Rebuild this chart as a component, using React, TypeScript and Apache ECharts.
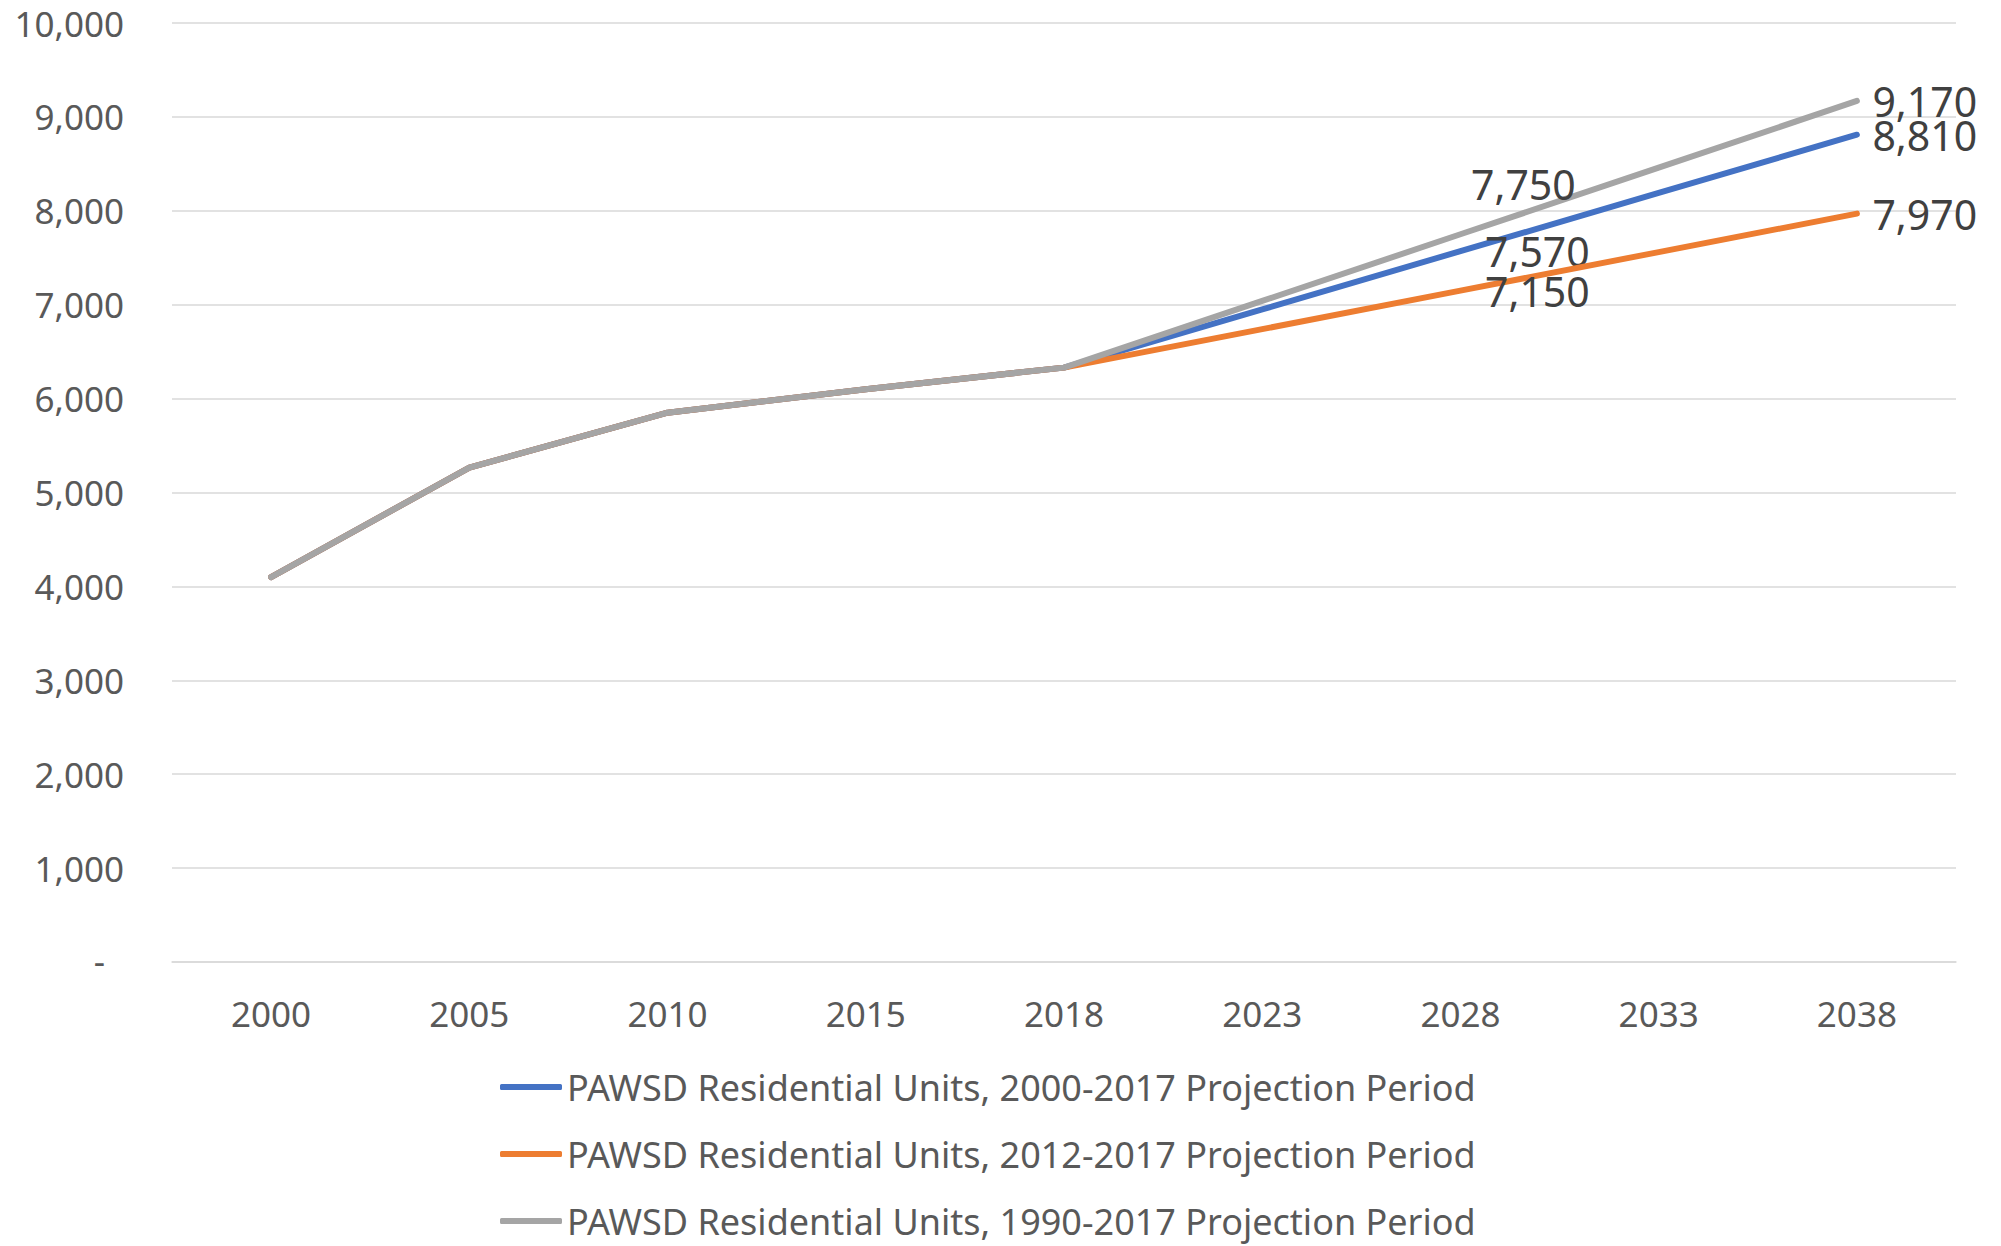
import React, { useEffect, useRef } from "react";
import * as echarts from "echarts";

const categories = ["2000", "2005", "2010", "2015", "2018", "2023", "2028", "2033", "2038"];
const series2000_2017 = [4100, 5265, 5850, 6100, 6330, 6950, 7570, 8190, 8810];
const series2012_2017 = [4100, 5265, 5850, 6100, 6330, 6740, 7150, 7560, 7970];
const series1990_2017 = [4100, 5265, 5850, 6100, 6330, 7040, 7750, 8460, 9170];
const seriesNames = [
  "PAWSD Residential Units, 2000-2017 Projection Period",
  "PAWSD Residential Units, 2012-2017 Projection Period",
  "PAWSD Residential Units, 1990-2017 Projection Period",
];
const colors = ["#4472C4", "#ED7D31", "#A5A5A5"];
const labelledIdx = [6, 8];

const FONT = "Noto Sans";

const fmt = (v: number) => v.toLocaleString("en-US");

function buildData(values: number[], midOffset: number[]) {
  return values.map((v, i) => {
    if (!labelledIdx.includes(i)) return { value: v };
    const isMid = i === 6;
    return {
      value: v,
      label: {
        show: true,
        position: "right",
        distance: isMid ? 24 : 15,
        offset: isMid ? midOffset : [0, 0],
        formatter: (p: any) => fmt(p.value),
        color: "#404040",
        fontSize: 41,
        fontFamily: FONT,
      },
    };
  });
}

export default function App() {
  const ref = useRef<HTMLDivElement>(null);
  useEffect(() => {
    if (!ref.current) return;
    const chart = echarts.init(ref.current, undefined, { renderer: "svg" });
    const allSeries = [series2000_2017, series2012_2017, series1990_2017];
    const midOffsets = [[0, 0], [0, 0], [-14, -50]];
    chart.setOption({
      animation: false,
      backgroundColor: "#ffffff",
      grid: { left: 172, right: 45, top: 23, bottom: 284, containLabel: false },
      legend: {
        orient: "vertical",
        left: 500,
        top: 1069,
        padding: 0,
        height: 175,
        icon: "roundRect",
        itemWidth: 62,
        itemHeight: 6,
        itemGap: 31,
        data: seriesNames,
        textStyle: { color: "#595959", fontSize: 36, fontFamily: FONT, lineHeight: 36 },
      },
      xAxis: {
        type: "category",
        data: categories,
        boundaryGap: true,
        axisLine: { show: true, lineStyle: { color: "#D9D9D9", width: 1.5 } },
        axisTick: { show: false },
        axisLabel: { color: "#595959", fontSize: 35, fontFamily: FONT, margin: 34 },
      },
      yAxis: {
        type: "value",
        min: 0,
        max: 10000,
        interval: 1000,
        axisLine: { show: false },
        axisTick: { show: false },
        splitLine: { lineStyle: { color: "#D9D9D9", width: 1.5 } },
        axisLabel: {
          color: "#595959",
          fontSize: 35,
          fontFamily: FONT,
          margin: 48,
          formatter: (v: number) => (v === 0 ? "{d|-}" : fmt(v)),
          rich: { d: { color: "#595959", fontSize: 35, fontFamily: FONT, padding: [0, 19, 4, 0] } },
        },
      },
      series: allSeries.map((vals, k) => ({
        name: seriesNames[k],
        type: "line",
        data: buildData(vals, midOffsets[k]),
        color: colors[k],
        symbol: "circle",
        symbolSize: 1,
        showSymbol: true,
        lineStyle: { color: colors[k], width: 6, cap: "round", join: "round" },
        itemStyle: { color: colors[k] },
        z: 2 + k,
      })),
    });
    return () => chart.dispose();
  }, []);
  return (
    <div
      ref={ref}
      style={{ position: "fixed", left: 0, top: 0, width: 2001, height: 1246, background: "#fff" }}
    />
  );
}
